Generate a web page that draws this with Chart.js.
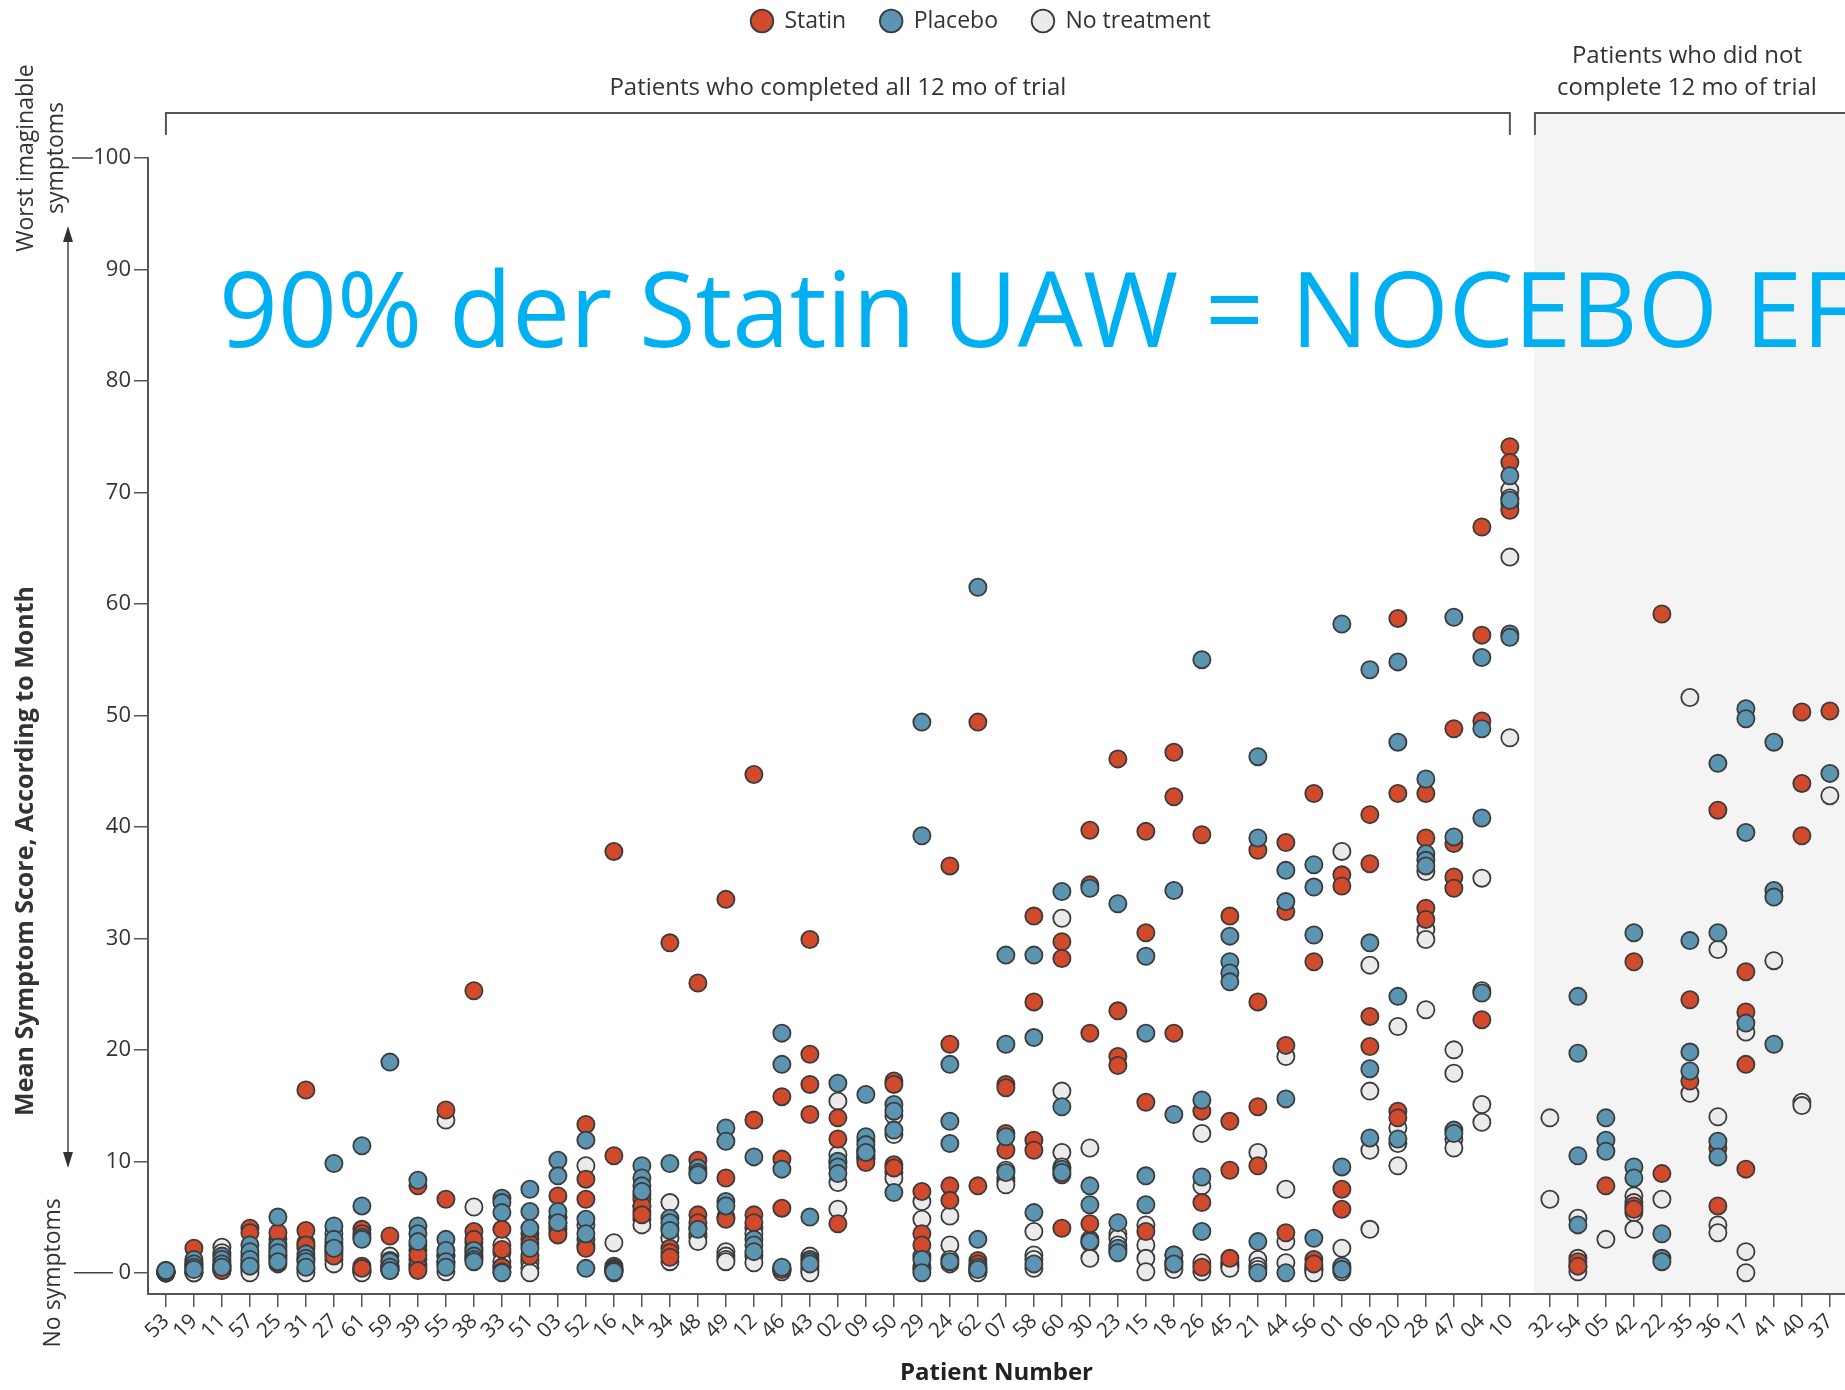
<!DOCTYPE html>
<html>
<head>
<meta charset="utf-8">
<title>Symptom scores by patient</title>
<script src="https://cdn.jsdelivr.net/npm/chart.js@4.4.1/dist/chart.umd.min.js"></script>
<style>
  html, body { margin: 0; padding: 0; background: #fff; }
  #wrap { width: 1845px; height: 1390px; position: relative; }
</style>
</head>
<body>
<div id="wrap"><canvas id="chart"></canvas></div>
<script>
/* ── DATA ─────────────────────────────────────────────────────── */
const patients = ['53','19','11','57','25','31','27','61','59','39','55','38','33','51','03','52','16','14','34','48',
                  '49','12','46','43','02','09','50','29','24','62','07','58','60','30','23','15','18','26','45','21',
                  '44','56','01','06','20','28','47','04','10',
                  '32','54','05','42','22','35','36','17','41','40','37'];
const completedCount = 49;   // first 49 patients completed all 12 months
const yTicks = [0, 10, 20, 30, 40, 50, 60, 70, 80, 90, 100];

// one list of monthly mean scores per patient, same order as `patients`
const statin = [
  [0.2, 0.1, 0, 0], [2.2, 1.0, 0.8, 0.5], [1.0, 0.5, 0.3, 0.2], [4.0, 3.6, 1.5, 0.8], [3.6, 1.6, 1.2, 0.8],
  [16.4, 3.8, 2.5, 1.2], [2.7, 2.4, 1.8, 1.5], [3.9, 3.5, 0.6, 0.4], [3.3, 0.5, 0.3, 0.2], [7.8, 2.5, 1.6, 0.2],
  [14.6, 6.6, 1.5, 1.0], [25.3, 3.7, 3.0, 1.8], [3.9, 2.1, 0.5, 0.1], [3.5, 3.0, 2.6, 1.5], [6.9, 4.9, 4.2, 3.4],
  [13.3, 8.4, 6.6, 2.2], [37.8, 10.5, 0.6, 0.3], [7.0, 6.6, 6.0, 5.2], [29.6, 2.2, 1.8, 1.4], [26.0, 10.1, 5.2, 4.5],
  [33.5, 8.5, 5.0, 4.8], [44.7, 13.7, 5.2, 4.5], [15.8, 10.2, 5.8, 0.3], [29.9, 19.6, 16.9, 14.2], [13.9, 12.0, 9.8, 4.4],
  [11.0, 10.6, 10.3, 9.9], [17.2, 16.9, 9.7, 9.4], [7.3, 3.5, 2.5, 0.3], [36.5, 20.5, 7.8, 6.5], [49.4, 7.8, 1.1, 0.8],
  [16.9, 16.6, 12.5, 11.0], [32.0, 24.3, 11.9, 11.0], [29.7, 28.2, 8.8, 4.0], [39.7, 34.8, 21.5, 4.4], [46.1, 23.5, 19.4, 18.6],
  [39.6, 30.5, 15.3, 3.7], [46.7, 42.7, 21.5, 1.0], [39.3, 14.5, 6.3, 0.5], [32.0, 13.6, 9.2, 1.3], [37.9, 24.3, 14.9, 9.6],
  [38.6, 32.4, 20.4, 3.6], [43.0, 27.9, 1.2, 0.8], [35.7, 34.7, 7.5, 5.7], [41.1, 36.7, 23.0, 20.3], [58.7, 43.0, 14.5, 13.9],
  [43.0, 39.0, 32.7, 31.7], [48.8, 38.5, 35.5, 34.5], [66.9, 57.2, 49.5, 22.7], [74.1, 72.7, 69.0, 68.4],
  [], [1.0, 0.6], [7.8], [27.9, 6.0, 5.7], [59.1, 8.9], [24.5, 17.2], [41.5, 11.2, 6.0], [27.0, 23.4, 18.7, 9.3],
  [], [50.3, 43.9, 39.2], [50.4]
];
const placebo = [
  [0, 0, 0.1, 0.2], [1.2, 0.8, 0.5, 0.3], [1.5, 1.2, 0.8, 0.5], [2.5, 1.9, 1.2, 0.6], [5.0, 2.3, 1.8, 1.0],
  [1.7, 1.3, 1.0, 0.5], [9.8, 4.2, 3.0, 2.2], [11.4, 6.0, 3.2, 3.0], [18.9, 1.0, 0.5, 0.2], [8.3, 4.2, 3.5, 2.8],
  [3.0, 2.0, 1.0, 0.5], [2.0, 1.5, 1.2, 1.0], [6.7, 6.3, 5.4, 0], [7.5, 5.5, 4.0, 2.2], [10.1, 8.7, 5.5, 4.5],
  [11.9, 4.8, 3.5, 0.4], [0.4, 0.3, 0.2, 0.1], [9.6, 8.5, 7.8, 7.3], [9.8, 4.9, 4.5, 3.8], [9.4, 9.0, 8.8, 3.9],
  [13.0, 11.8, 6.4, 6.0], [10.4, 3.0, 2.5, 1.9], [21.5, 18.7, 9.3, 0.5], [5.0, 1.2, 1.0, 0.8], [17.0, 10.0, 9.5, 8.9],
  [16.0, 12.2, 11.5, 10.8], [15.1, 14.5, 12.8, 7.2], [49.4, 39.2, 1.2, 0], [18.7, 13.6, 11.6, 1.0], [61.5, 3.0, 0.5, 0.3],
  [28.5, 20.5, 12.2, 9.0], [28.5, 21.1, 5.4, 0.8], [34.2, 14.9, 9.3, 9.0], [34.5, 7.8, 6.1, 2.8], [33.1, 4.5, 2.2, 1.8],
  [28.4, 21.5, 8.7, 6.1], [34.3, 14.2, 1.6, 0.8], [55.0, 15.5, 8.6, 3.7], [30.2, 27.9, 26.9, 26.1], [46.3, 39.0, 2.8, 0],
  [36.1, 33.3, 15.6, 0], [36.6, 34.6, 30.3, 3.1], [58.2, 9.5, 0.6, 0.3], [54.1, 29.6, 18.3, 12.1], [54.8, 47.6, 24.8, 12.0],
  [44.3, 37.6, 37.0, 36.5], [58.8, 39.1, 12.8, 12.5], [55.2, 48.8, 40.8, 25.1], [71.5, 69.3, 57.3, 57.0],
  [], [24.8, 19.7, 10.5, 4.3], [13.9, 11.9, 10.9], [30.5, 9.5, 8.5], [3.5, 1.3, 1.0], [29.8, 19.8, 18.1],
  [45.7, 30.5, 11.8, 10.4], [50.6, 49.7, 39.5, 22.4], [47.6, 34.3, 33.7, 20.5], [], [44.8]
];
const noTreatment = [
  [0, 0, 0.1, 0], [0.2, 0, 0, 0], [2.3, 1.8, 0.6, 0.2], [1.0, 0.5, 0.3, 0], [3.0, 2.6, 2.0, 1.4],
  [2.7, 2.2, 0.3, 0], [3.5, 2.0, 1.2, 0.8], [0.3, 0.2, 0.1, 0], [1.5, 1.1, 0.6, 0.3], [2.0, 1.2, 0.8, 0.5],
  [13.7, 1.5, 0.8, 0.1], [5.9, 2.7, 2.2, 1.3], [2.5, 1.8, 1.0, 0.5], [1.2, 0.9, 0.4, 0], [5.0, 4.5, 3.9, 3.6],
  [9.6, 4.3, 3.0, 2.5], [2.7, 0.2, 0.1, 0], [6.0, 5.5, 4.8, 4.3], [6.3, 4.0, 3.1, 1.0], [4.0, 3.5, 3.2, 2.8],
  [1.9, 1.5, 1.2, 1.0], [4.0, 3.5, 1.5, 0.9], [0.4, 0.3, 0.2, 0.1], [1.5, 0.5, 0.2, 0], [15.4, 10.6, 8.1, 5.7],
  [11.8, 10.9, 10.5, 10.2], [14.1, 12.4, 9.0, 8.5], [6.4, 4.8, 1.5, 0.5], [5.1, 2.5, 1.2, 0.8], [0.4, 0.2, 0.1, 0],
  [9.2, 8.5, 8.2, 7.9], [3.7, 1.6, 1.2, 0.4], [31.8, 16.3, 10.8, 9.5], [11.2, 3.0, 2.7, 1.3], [3.5, 3.1, 2.5, 2.0],
  [4.3, 2.5, 1.3, 0.1], [1.6, 1.0, 0.6, 0.3], [12.5, 7.8, 0.9, 0.1], [1.0, 0.8, 0.6, 0.4], [10.8, 1.2, 0.6, 0.3],
  [19.4, 7.5, 2.8, 0.9], [0.5, 0.3, 0.2, 0], [37.8, 2.2, 0.4, 0.1], [27.6, 16.3, 11.0, 3.9], [22.1, 13.0, 11.6, 9.6],
  [36.0, 30.8, 29.9, 23.6], [20.0, 17.9, 12.0, 11.2], [35.4, 25.3, 15.1, 13.5], [70.2, 69.5, 64.2, 48.0],
  [13.9, 6.6], [4.9, 1.3, 0.5, 0.1], [3.0], [6.9, 6.3, 5.4, 3.9], [6.6], [51.6, 16.1],
  [29.0, 14.0, 4.3, 3.6], [21.6, 1.9, 0], [28.0], [15.3, 15.0], [42.8]
];

/* ── LAYOUT ───────────────────────────────────────────────────── */
const GROUP_GAP = 0.43;     // extra space before the non-completers
const X_MIN = -0.64, X_PAD_RIGHT = 0.54, Y_MIN = -1.9;
const PLOT_TOP = 158, Y_AXIS_W = 148, X_AXIS_H = 96;
const BRACKET_Y = 113;
const LEGEND_X = 751, LEGEND_Y = 9.5;
const FONT = '"Open Sans", sans-serif';
const OVERLAY_TEXT = '90% der Statin UAW = NOCEBO EF';

const xPos = i => (i < completedCount ? i : i + GROUP_GAP);
const toPoints = rows => rows.flatMap((vals, i) => vals.map(v => ({ x: xPos(i), y: v })));

Chart.defaults.font.family = FONT;
Chart.defaults.color = '#333';

/* ── PLUGINS ──────────────────────────────────────────────────── */
// legend sits in a tall box so the plot starts below the brackets
const legendPlacement = {
  id: 'legendPlacement',
  beforeInit(chart) {
    const legend = chart.legend;
    const fit = legend.fit;
    legend.fit = function () { fit.call(this); this.height = PLOT_TOP; };
  },
  afterLayout(chart) {
    const pad = chart.legend.options.labels.padding;
    chart.legend.left = LEGEND_X - pad;
    chart.legend.top = LEGEND_Y - pad;
  }
};

const backdrop = {
  id: 'backdrop',
  beforeDraw(chart) {
    const { ctx, chartArea, scales: { x } } = chart;
    const split = x.getPixelForValue(xPos(completedCount) - 0.57);
    ctx.save();
    ctx.fillStyle = '#fff';
    ctx.fillRect(0, 0, chart.width, chart.height);
    ctx.fillStyle = '#f4f4f4';
    ctx.fillRect(split, BRACKET_Y, chart.width - split, chartArea.bottom - BRACKET_Y);
    ctx.restore();
  }
};

function vText(ctx, txt, cx, cy, font) {
  ctx.save();
  ctx.translate(cx, cy);
  ctx.rotate(-Math.PI / 2);
  ctx.font = font;
  ctx.fillText(txt, 0, 0);
  ctx.restore();
}

const annotations = {
  id: 'annotations',
  afterDraw(chart) {
    const { ctx, scales: { x, y } } = chart;
    const first = x.getPixelForValue(xPos(0));
    const last = x.getPixelForValue(xPos(completedCount - 1));
    const split = x.getPixelForValue(xPos(completedCount) - 0.57) + 1;
    const y100 = y.getPixelForValue(100), y0 = y.getPixelForValue(0);

    ctx.save();
    // brackets over the two patient groups
    ctx.strokeStyle = '#555';
    ctx.lineWidth = 2;
    ctx.beginPath();
    ctx.moveTo(first, BRACKET_Y + 22); ctx.lineTo(first, BRACKET_Y);
    ctx.lineTo(last, BRACKET_Y); ctx.lineTo(last, BRACKET_Y + 22);
    ctx.stroke();
    ctx.beginPath();
    ctx.moveTo(split, BRACKET_Y + 22); ctx.lineTo(split, BRACKET_Y); ctx.lineTo(chart.width, BRACKET_Y);
    ctx.stroke();

    ctx.fillStyle = '#333';
    ctx.font = '24px ' + FONT;
    ctx.textAlign = 'center';
    ctx.textBaseline = 'middle';
    ctx.fillText('Patients who completed all 12 mo of trial', (first + last) / 2, 88);
    const rightMid = (split + chart.width) / 2 - 3;
    ctx.fillText('Patients who did not', rightMid, 56);
    ctx.fillText('complete 12 mo of trial', rightMid, 88);

    // y-axis side labels
    vText(ctx, 'Worst imaginable', 26, y100, '23px ' + FONT);
    vText(ctx, 'symptoms', 56, y100, '23px ' + FONT);
    vText(ctx, 'No symptoms', 53, y0, '23px ' + FONT);
    vText(ctx, 'Mean Symptom Score, According to Month', 26, 851, 'bold 25px ' + FONT);

    ctx.strokeStyle = '#444';
    ctx.lineWidth = 1.5;
    ctx.beginPath();
    ctx.moveTo(72, y100); ctx.lineTo(93, y100);
    ctx.moveTo(74, y0); ctx.lineTo(113, y0);
    ctx.moveTo(68, 236); ctx.lineTo(68, 1158);
    ctx.stroke();
    ctx.fillStyle = '#333';
    ctx.beginPath();
    ctx.moveTo(68, 226); ctx.lineTo(63, 242); ctx.lineTo(73, 242); ctx.closePath();
    ctx.moveTo(68, 1168); ctx.lineTo(63, 1152); ctx.lineTo(73, 1152); ctx.closePath();
    ctx.fill();

    // slide caption laid over the chart
    ctx.font = '105px ' + FONT;
    ctx.fillStyle = '#00B0F0';
    ctx.textAlign = 'left';
    ctx.textBaseline = 'alphabetic';
    const sx = (1802 - 219) / ctx.measureText(OVERLAY_TEXT.slice(0, -1)).width;
    ctx.translate(219, 347);
    ctx.scale(sx, 1);
    ctx.fillText(OVERLAY_TEXT, 0, 0);
    ctx.restore();
  }
};

/* ── CHART ────────────────────────────────────────────────────── */
const pointBorder = '#3b3b3b';

new Chart(document.getElementById('chart'), {
  type: 'scatter',
  data: {
    datasets: [
      { label: 'Statin', data: toPoints(statin), backgroundColor: '#d24a2c', borderColor: pointBorder, order: 2 },
      { label: 'Placebo', data: toPoints(placebo), backgroundColor: '#5b95b1', borderColor: pointBorder, order: 1 },
      { label: 'No treatment', data: toPoints(noTreatment), backgroundColor: '#ebebeb', borderColor: pointBorder, order: 3 }
    ]
  },
  options: {
    responsive: true,
    maintainAspectRatio: false,
    animation: false,
    events: [],
    layout: { padding: 0, autoPadding: false },
    elements: { point: { radius: 8.6, hoverRadius: 8.6, borderWidth: 1.8 } },
    plugins: {
      tooltip: { enabled: false },
      legend: {
        position: 'top',
        align: 'start',
        labels: {
          usePointStyle: true,
          pointStyle: 'circle',
          boxWidth: 22,
          boxHeight: 16,
          padding: 34,
          font: { size: 23 },
          color: '#333',
          sort: (a, b) => a.datasetIndex - b.datasetIndex
        }
      }
    },
    scales: {
      x: {
        type: 'linear',
        min: X_MIN,
        max: xPos(patients.length - 1) + X_PAD_RIGHT,
        afterBuildTicks: s => { s.ticks = patients.map((p, i) => ({ value: xPos(i) })); },
        afterFit: s => { s.height = X_AXIS_H; s.paddingLeft = 0; s.paddingRight = 0; },
        ticks: {
          autoSkip: false,
          minRotation: 45,
          maxRotation: 45,
          padding: 2,
          font: { size: 21 },
          color: '#333',
          callback: (v, i) => patients[i]
        },
        grid: { drawOnChartArea: false, drawTicks: true, tickLength: 13, color: '#555', lineWidth: 1.5 },
        border: { color: '#555', width: 2 },
        title: {
          display: true,
          text: 'Patient Number',
          font: { size: 24, weight: 'bold' },
          color: '#222',
          padding: { top: 0, bottom: 2 }
        }
      },
      y: {
        min: Y_MIN,
        max: 100,
        afterBuildTicks: s => { s.ticks = yTicks.map(v => ({ value: v })); },
        afterFit: s => { s.width = Y_AXIS_W; },
        ticks: { font: { size: 22 }, color: '#333', padding: 3 },
        grid: { drawOnChartArea: false, tickLength: 14, color: '#555', lineWidth: 1.5 },
        border: { color: '#555', width: 2 }
      }
    }
  },
  plugins: [legendPlacement, backdrop, annotations]
});
</script>
</body>
</html>
